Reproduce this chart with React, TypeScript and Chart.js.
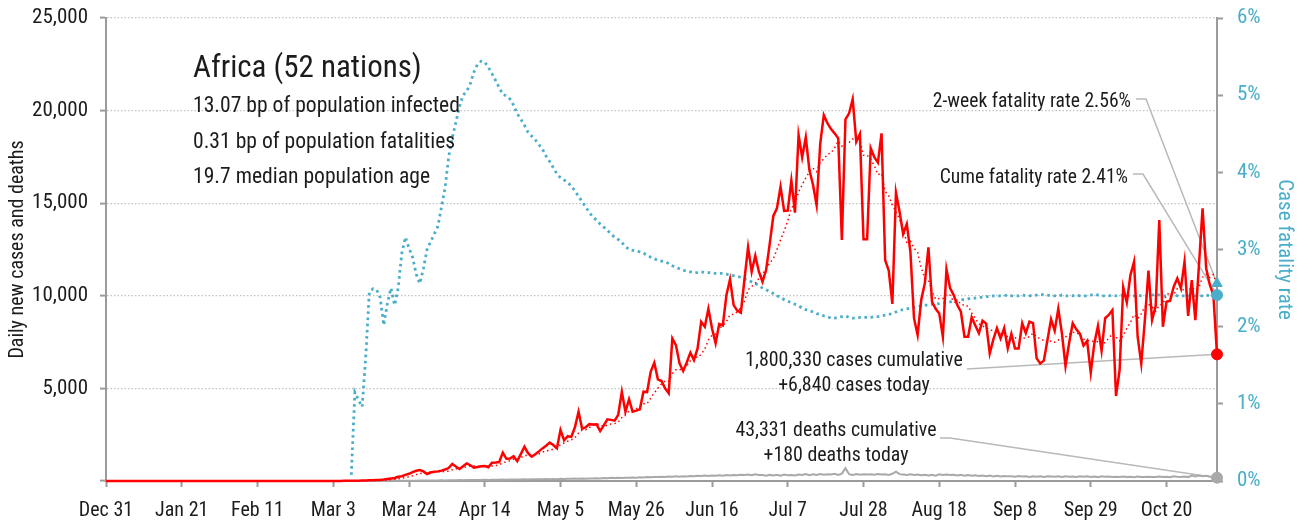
import React, { useEffect, useRef } from 'react';
import { Chart, registerables } from 'chart.js';

Chart.register(...registerables);

// ---------- data ----------
const TICK_LABELS = ['Dec 31', 'Jan 21', 'Feb 11', 'Mar 3', 'Mar 24', 'Apr 14', 'May 5', 'May 26', 'Jun 16', 'Jul 7', 'Jul 28', 'Aug 18', 'Sep 8', 'Sep 29', 'Oct 20'];
const TICK_STEP_DAYS = 21;

// daily new cases, one value per day starting Dec 31
const CASES = [
  0, 0, 0, 0, 0, 0, 0,
  0, 0, 0, 0, 0, 0, 0,
  0, 0, 0, 0, 0, 0, 0,
  0, 0, 0, 0, 0, 0, 0,
  0, 0, 0, 0, 0, 0, 0,
  0, 0, 0, 0, 0, 0, 0,
  0, 0, 0, 1, 0, 0, 0,
  0, 0, 0, 0, 0, 0, 1,
  1, 0, 1, 2, 0, 1, 2,
  3, 5, 4, 8, 10, 12, 15,
  20, 25, 30, 35, 40, 50, 60,
  80, 110, 140, 160, 230, 260, 330,
  390, 480, 550, 590, 520, 380, 460,
  500, 520, 560, 620, 700, 920, 780,
  650, 800, 950, 850, 720, 760, 800,
  810, 740, 990, 1000, 1020, 1530, 1200,
  1210, 1340, 1070, 1450, 1850, 1500, 1310,
  1450, 1600, 1760, 1900, 2070, 1940, 1760,
  2750, 2200, 2420, 2380, 2900, 3740, 2820,
  2900, 3070, 3050, 3060, 2700, 3000, 3330,
  3300, 3260, 3570, 4820, 3740, 4410, 3740,
  3800, 3870, 4820, 4800, 5900, 6390, 5490,
  5400, 5000, 4740, 7700, 7340, 6350, 5940,
  6400, 6930, 6530, 7160, 8600, 8330, 9300,
  8250, 7440, 8480, 8400, 10040, 10890, 9500,
  9200, 9090, 10890, 12620, 11300, 12170, 11300,
  10760, 11390, 12800, 14310, 14720, 15890, 14580,
  14600, 16220, 14490, 18680, 17480, 18560, 16790,
  16000, 14900, 18200, 19760, 19320, 19000, 18770,
  18500, 13010, 19530, 19850, 20610, 18320, 18740,
  13050, 13050, 17970, 17480, 17190, 18770, 11930,
  11360, 9560, 15570, 14540, 13340, 13880, 12380,
  8790, 7880, 9770, 10680, 12620, 9680, 9300,
  9050, 7790, 11430, 10410, 10040, 9500, 9140,
  7790, 7790, 8840, 8400, 7980, 8660, 8500,
  6890, 7650, 8250, 7700, 8250, 7160, 7940,
  7160, 7160, 8520, 7980, 8600, 8520, 6620,
  6350, 6500, 7610, 8730, 8120, 9300, 7980,
  6210, 7440, 8520, 8190, 7940, 7310, 7560,
  5850, 7440, 8370, 7040, 8790, 8970, 9230,
  4590, 5990, 10460, 9630, 11120, 11840, 7790,
  6350, 8690, 11360, 8690, 9450, 14090, 8330,
  9680, 9730, 10490, 10940, 10400, 11840, 8910,
  10850, 8690, 11660, 14720, 11490, 10600, 10040,
  6840,
];

// daily deaths
const DEATHS = [
  0, 0, 0, 0, 0, 0, 0,
  0, 0, 0, 0, 0, 0, 0,
  0, 0, 0, 0, 0, 0, 0,
  0, 0, 0, 0, 0, 0, 0,
  0, 0, 0, 0, 0, 0, 0,
  0, 0, 0, 0, 0, 0, 0,
  0, 0, 0, 0, 0, 0, 0,
  0, 0, 0, 0, 0, 0, 0,
  0, 0, 0, 0, 0, 0, 0,
  0, 0, 0, 0, 0, 1, 0,
  1, 1, 2, 2, 3, 3, 5,
  6, 8, 10, 10, 12, 15, 15,
  18, 20, 20, 22, 25, 25, 28,
  30, 30, 35, 30, 40, 45, 40,
  50, 45, 55, 60, 50, 55, 60,
  65, 60, 70, 65, 70, 75, 70,
  80, 75, 85, 80, 90, 85, 95,
  90, 100, 95, 105, 100, 110, 100,
  115, 110, 120, 115, 130, 120, 135,
  125, 140, 130, 150, 140, 160, 150,
  170, 160, 175, 165, 180, 170, 190,
  180, 200, 190, 210, 200, 220, 210,
  230, 215, 240, 225, 250, 235, 260,
  245, 270, 255, 280, 265, 290, 270,
  300, 285, 310, 290, 320, 300, 330,
  310, 340, 320, 350, 310, 360, 330,
  320, 290, 330, 300, 340, 290, 350,
  310, 330, 300, 350, 320, 370, 310,
  360, 330, 380, 340, 370, 350, 390,
  330, 400, 690, 370, 330, 380, 340,
  360, 350, 370, 340, 380, 350, 370,
  330, 390, 500, 370, 350, 330, 360,
  320, 350, 310, 340, 300, 330, 290,
  360, 330, 350, 320, 340, 300, 330,
  290, 320, 280, 310, 270, 300, 260,
  290, 250, 280, 240, 270, 250, 260,
  230, 270, 240, 260, 220, 250, 230,
  260, 220, 250, 240, 230, 250, 220,
  260, 230, 240, 220, 250, 230, 260,
  220, 240, 210, 250, 230, 240, 220,
  230, 210, 240, 220, 230, 200, 240,
  220, 210, 230, 220, 210, 240, 220,
  230, 200, 250, 230, 220, 240, 210,
  290, 250, 300, 260, 280, 240, 220,
  180,
];

// case fatality rate, percent
const CFR = [
  null, null, null, null, null, null, null,
  null, null, null, null, null, null, null,
  null, null, null, null, null, null, null,
  null, null, null, null, null, null, null,
  null, null, null, null, null, null, null,
  null, null, null, null, null, null, null,
  null, null, null, null, null, null, null,
  null, null, null, null, null, null, null,
  null, null, null, null, null, null, null,
  null, null, null, null, null, 0.08, 1.15,
  1.05, 0.96, 1.6, 2.45, 2.49, 2.48, 2.38,
  2.02, 2.3, 2.5, 2.28, 2.5, 2.95, 3.16,
  3.02, 2.9, 2.68, 2.56, 2.75, 3.0, 3.1,
  3.2, 3.3, 3.55, 3.8, 4.2, 4.45, 4.65,
  4.85, 5.0, 5.05, 5.15, 5.3, 5.4, 5.44,
  5.43, 5.36, 5.28, 5.19, 5.1, 5.01, 4.99,
  4.95, 4.87, 4.76, 4.69, 4.61, 4.52, 4.47,
  4.42, 4.36, 4.3, 4.21, 4.14, 4.06, 3.98,
  3.93, 3.9, 3.87, 3.82, 3.76, 3.69, 3.62,
  3.55, 3.48, 3.42, 3.38, 3.33, 3.29, 3.25,
  3.2, 3.16, 3.13, 3.09, 3.04, 3.0, 2.99,
  2.98, 2.97, 2.95, 2.93, 2.9, 2.88, 2.86,
  2.85, 2.84, 2.82, 2.79, 2.77, 2.75, 2.73,
  2.72, 2.71, 2.70, 2.70, 2.71, 2.70, 2.70,
  2.70, 2.69, 2.69, 2.69, 2.68, 2.67, 2.66,
  2.65, 2.64, 2.62, 2.60, 2.58, 2.56, 2.53,
  2.50, 2.48, 2.45, 2.43, 2.40, 2.38, 2.35,
  2.33, 2.31, 2.29, 2.27, 2.24, 2.22, 2.21,
  2.19, 2.17, 2.16, 2.14, 2.13, 2.11, 2.11,
  2.12, 2.13, 2.14, 2.12, 2.11, 2.11, 2.12,
  2.12, 2.12, 2.12, 2.13, 2.13, 2.14, 2.15,
  2.16, 2.17, 2.19, 2.21, 2.22, 2.23, 2.24,
  2.25, 2.26, 2.27, 2.28, 2.28, 2.29, 2.29,
  2.30, 2.31, 2.31, 2.32, 2.33, 2.34, 2.35,
  2.35, 2.36, 2.37, 2.37, 2.38, 2.38, 2.39,
  2.39, 2.40, 2.40, 2.40, 2.40, 2.41, 2.40,
  2.40, 2.40, 2.41, 2.40, 2.40, 2.41, 2.41,
  2.42, 2.41, 2.41, 2.40, 2.40, 2.40, 2.41,
  2.40, 2.40, 2.40, 2.41, 2.40, 2.40, 2.40,
  2.41, 2.42, 2.41, 2.40, 2.40, 2.40, 2.41,
  2.40, 2.40, 2.41, 2.40, 2.40, 2.40, 2.41,
  2.40, 2.40, 2.40, 2.41, 2.42, 2.41, 2.40,
  2.40, 2.40, 2.41, 2.40, 2.40, 2.40, 2.40,
  2.41, 2.40, 2.40, 2.40, 2.41, 2.40, 2.40,
  2.41,
];

const TWO_WEEK_CFR = 2.56;
const CUME_CFR = 2.41;

const TITLE = 'Africa (52 nations)';
const INFO_LINES = ['13.07 bp of population infected', '0.31 bp of population fatalities', '19.7 median population age'];
const TWO_WEEK_NOTE = '2-week fatality rate 2.56%';
const CUME_NOTE = 'Cume fatality rate 2.41%';
const CASES_NOTE = ['1,800,330 cases cumulative', '+6,840 cases today'];
const DEATHS_NOTE = ['43,331 deaths cumulative', '+180 deaths today'];

// ---------- styling ----------
const TEXT = '#1c1c1c';
const TEAL = '#4aaec9';
const RED = '#ff0000';
const GREY_LINE = '#a9a9a9';
const AXIS = '#9b9b9b';
const LEADER = '#b9b9b9';

function detectFamily(): string {
  const ctx = document.createElement('canvas').getContext('2d');
  if (!ctx) return 'Roboto, sans-serif';
  const s = 'Daily new cases 0123456789 WMmwil';
  const cands = ['Roboto Condensed', 'Liberation Sans Narrow', 'DejaVu Sans Condensed', 'Arial Narrow'];
  for (const f of cands) {
    ctx.font = '40px monospace';
    const a = ctx.measureText(s).width;
    ctx.font = `40px "${f}", monospace`;
    const b = ctx.measureText(s).width;
    if (Math.abs(a - b) > 0.5) return `"${f}", Roboto, sans-serif`;
  }
  return 'Roboto, sans-serif';
}

export default function App() {
  const ref = useRef<HTMLCanvasElement>(null);

  useEffect(() => {
    const canvas = ref.current;
    if (!canvas) return;
    const FAMILY = detectFamily();
    const last = CASES.length - 1;
    const pts = (arr: (number | null)[]) => arr.map((v, i) => ({ x: i, y: v }));
    const avg7 = CASES.map((_, i) => {
      const s = CASES.slice(Math.max(0, i - 6), i + 1);
      return s.reduce((a, b) => a + b, 0) / s.length;
    });

    const notesPlugin = {
      id: 'notes',
      beforeDatasetsDraw(chart: any) {
        const { ctx, scales } = chart;
        const xe = scales.x.getPixelForValue(last);
        const yCases = scales.y.getPixelForValue(CASES[last]);
        const yDeaths = scales.y.getPixelForValue(DEATHS[last]);
        const yTwo = scales.y1.getPixelForValue(TWO_WEEK_CFR);
        const yCume = scales.y1.getPixelForValue(CUME_CFR);
        ctx.save();
        ctx.strokeStyle = LEADER;
        ctx.lineWidth = 1.5;
        const poly = (p: number[][]) => {
          ctx.beginPath();
          ctx.moveTo(p[0][0], p[0][1]);
          for (let i = 1; i < p.length; i++) ctx.lineTo(p[i][0], p[i][1]);
          ctx.stroke();
        };
        poly([[1136, 99], [1146, 99], [xe, yTwo]]);
        poly([[1133, 174], [1143, 174], [xe, yCume]]);
        poly([[967, 369], [xe, yCases]]);
        poly([[940, 438], [950, 438], [xe, yDeaths]]);
        ctx.restore();
      },
      afterDraw(chart: any) {
        const { ctx } = chart;
        ctx.save();
        ctx.fillStyle = TEXT;
        ctx.textBaseline = 'alphabetic';
        ctx.textAlign = 'left';
        ctx.font = `31px ${FAMILY}`;
        ctx.fillText(TITLE, 193, 77);
        ctx.font = `21.6px ${FAMILY}`;
        INFO_LINES.forEach((t, i) => ctx.fillText(t, 193, 112 + i * 35.5));
        ctx.textAlign = 'right';
        ctx.font = `19.6px ${FAMILY}`;
        ctx.fillText(TWO_WEEK_NOTE, 1131, 107);
        ctx.fillText(CUME_NOTE, 1128, 183);
        ctx.textAlign = 'center';
        ctx.font = `19.9px ${FAMILY}`;
        ctx.fillText(CASES_NOTE[0], 854, 366);
        ctx.fillText(CASES_NOTE[1], 854, 391);
        ctx.fillText(DEATHS_NOTE[0], 836, 436);
        ctx.fillText(DEATHS_NOTE[1], 836, 461);
        ctx.restore();
      },
    };

    const tickFont = { family: FAMILY, size: 20 };
    const fitVertical = (w: number) => (s: any) => {
      s.width = w;
      s.paddingTop = 0;
      s.paddingBottom = 0;
    };

    const chart = new Chart(canvas, {
      type: 'line',
      data: {
        datasets: [
          { label: 'cases end', data: [{ x: last, y: CASES[last] }], showLine: false, pointRadius: 5.5, pointBackgroundColor: RED, pointBorderColor: RED, order: 0, clip: false as any, yAxisID: 'y' },
          { label: 'deaths end', data: [{ x: last, y: DEATHS[last] }], showLine: false, pointRadius: 5.5, pointBackgroundColor: GREY_LINE, pointBorderColor: GREY_LINE, order: 0, clip: false as any, yAxisID: 'y' },
          { label: 'two-week cfr', data: [{ x: last, y: TWO_WEEK_CFR }], showLine: false, pointRadius: 6, pointStyle: 'triangle', pointBackgroundColor: TEAL, pointBorderColor: TEAL, order: 0, clip: false as any, yAxisID: 'y1' },
          { label: 'cume cfr', data: [{ x: last, y: CUME_CFR }], showLine: false, pointRadius: 5.5, pointBackgroundColor: TEAL, pointBorderColor: TEAL, order: 0, clip: false as any, yAxisID: 'y1' },
          { label: 'cases', data: pts(CASES), borderColor: RED, borderWidth: 2.5, pointRadius: 0, order: 1, yAxisID: 'y', clip: false as any },
          { label: 'cases 7-day', data: pts(avg7), borderColor: RED, borderWidth: 1.5, borderDash: [1.5, 3], pointRadius: 0, order: 2, yAxisID: 'y' },
          { label: 'deaths', data: pts(DEATHS), borderColor: GREY_LINE, borderWidth: 2, pointRadius: 0, order: 3, yAxisID: 'y', clip: false as any },
          { label: 'cfr', data: pts(CFR), borderColor: TEAL, borderWidth: 2.8, borderDash: [2.6, 3.6], pointRadius: 0, order: 4, yAxisID: 'y1', spanGaps: false },
        ],
      },
      options: {
        responsive: false,
        animation: false,
        devicePixelRatio: 1,
        layout: { padding: { top: 18, left: 0, right: 0, bottom: 0 } },
        plugins: { legend: { display: false }, tooltip: { enabled: false } },
        elements: { line: { tension: 0 } },
        scales: {
          x: {
            type: 'linear',
            min: 0,
            max: last,
            afterBuildTicks: (s: any) => { s.ticks = TICK_LABELS.map((_, i) => ({ value: i * TICK_STEP_DAYS })); },
            afterFit: (s: any) => { s.height = 41; },
            ticks: { autoSkip: false, maxRotation: 0, color: TEXT, font: tickFont, padding: 12, callback: (_v: any, i: number) => TICK_LABELS[i] },
            grid: { drawOnChartArea: false, drawTicks: true, tickLength: 6, tickColor: AXIS, tickWidth: 2 },
            border: { display: true, color: AXIS, width: 2 },
          },
          y: {
            position: 'left',
            min: 0,
            max: 25000,
            afterFit: fitVertical(106),
            ticks: { stepSize: 5000, color: TEXT, font: { family: FAMILY, size: 21 }, padding: 12, callback: (v: any) => (v === 0 ? '' : Number(v).toLocaleString('en-US')) },
            grid: { color: '#c2c2c2', lineWidth: 1.2, drawTicks: true, tickLength: 6, tickColor: AXIS, tickWidth: 2 },
            border: { display: true, color: AXIS, width: 2, dash: [1.5, 2] },
            title: { display: true, text: 'Daily new cases and deaths', color: TEXT, font: { family: FAMILY, size: 20 }, padding: { top: 6, bottom: 0 } },
          },
          y1: {
            position: 'right',
            min: 0,
            max: 6,
            afterFit: fitVertical(80),
            ticks: { stepSize: 1, color: TEAL, font: { family: FAMILY, size: 21 }, padding: 14, callback: (v: any) => `${v}%` },
            grid: { drawOnChartArea: false, drawTicks: true, tickLength: 6, tickColor: AXIS, tickWidth: 2 },
            border: { display: true, color: AXIS, width: 2 },
            title: { display: true, text: 'Case fatality rate', color: TEAL, font: { family: FAMILY, size: 21 }, padding: { top: 0, bottom: 8 } },
          },
        },
      } as any,
      plugins: [notesPlugin],
    });
    return () => chart.destroy();
  }, []);

  return (
    <div style={{ position: 'absolute', left: 0, top: 0, width: 1297, height: 522, background: '#ffffff' }}>
      <canvas ref={ref} width={1297} height={522} style={{ display: 'block', width: 1297, height: 522 }} />
    </div>
  );
}
